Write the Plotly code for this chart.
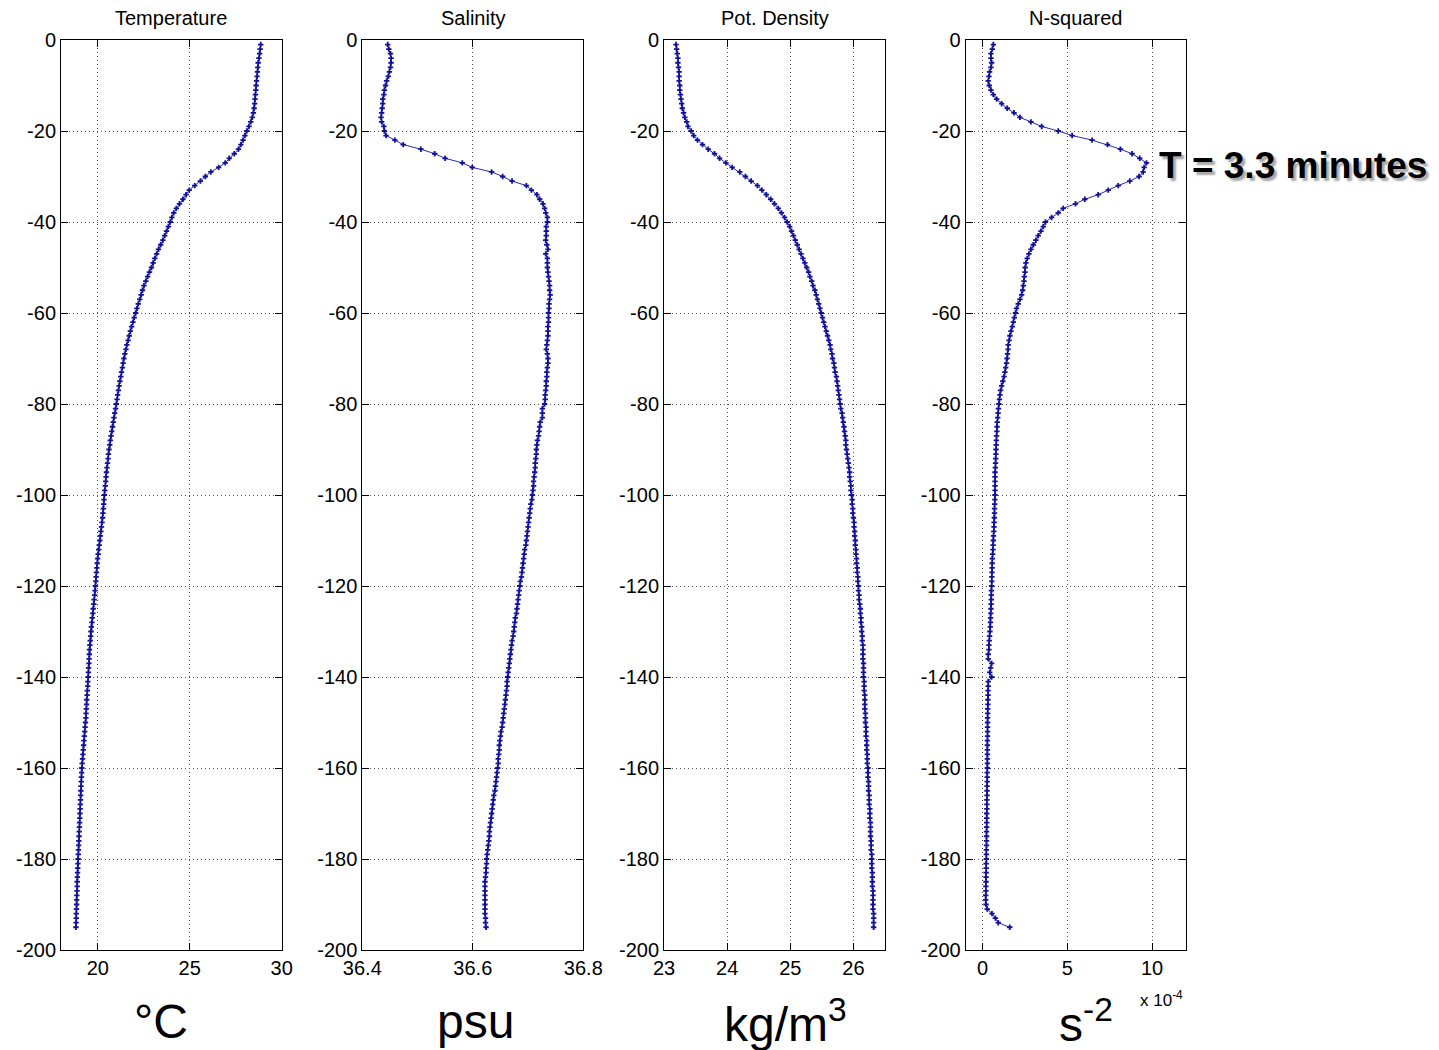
import plotly.graph_objects as go

# ---------------- data ----------------
depth = list(range(-1, -196, -1))  # 1 m bins, 1..195 m

temperature = [
    28.86, 28.83, 28.80, 28.76, 28.72, 28.70, 28.68, 28.66, 28.63, 28.61,
    28.59, 28.57, 28.55, 28.53, 28.50, 28.46, 28.40, 28.32, 28.22, 28.10,
    28.00, 27.90, 27.78, 27.65, 27.42, 27.15, 26.93, 26.57, 26.15, 25.85,
    25.58, 25.27, 24.97, 24.80, 24.63, 24.44, 24.27, 24.13, 24.03, 23.94,
    23.84, 23.74, 23.64, 23.54, 23.42, 23.30, 23.20, 23.10, 23.01, 22.92,
    22.81, 22.71, 22.61, 22.51, 22.43, 22.36, 22.28, 22.20, 22.13, 22.06,
    21.98, 21.91, 21.84, 21.77, 21.71, 21.65, 21.58, 21.53, 21.47, 21.42,
    21.38, 21.34, 21.29, 21.25, 21.20, 21.16, 21.12, 21.08, 21.05, 21.01,
    20.97, 20.92, 20.88, 20.84, 20.80, 20.76, 20.72, 20.68, 20.65, 20.61,
    20.58, 20.56, 20.53, 20.50, 20.47, 20.45, 20.43, 20.41, 20.38, 20.36,
    20.34, 20.32, 20.30, 20.28, 20.26, 20.23, 20.20, 20.17, 20.14, 20.11,
    20.08, 20.05, 20.02, 19.99, 19.97, 19.95, 19.93, 19.91, 19.89, 19.87,
    19.85, 19.83, 19.80, 19.78, 19.75, 19.73, 19.70, 19.68, 19.65, 19.63,
    19.61, 19.59, 19.57, 19.55, 19.54, 19.53, 19.52, 19.50, 19.49, 19.48,
    19.46, 19.45, 19.43, 19.42, 19.40, 19.39, 19.38, 19.36, 19.35, 19.33,
    19.31, 19.29, 19.27, 19.25, 19.23, 19.21, 19.19, 19.17, 19.15, 19.13,
    19.12, 19.11, 19.10, 19.09, 19.08, 19.07, 19.06, 19.05, 19.04, 19.03,
    19.02, 19.01, 19.00, 18.99, 18.98, 18.97, 18.96, 18.95, 18.94, 18.93,
    18.92, 18.91, 18.90, 18.89, 18.88, 18.88, 18.87, 18.86, 18.85, 18.85,
    18.84, 18.83, 18.83, 18.82, 18.81,
]

salinity = [
    36.446, 36.448, 36.451, 36.452, 36.452, 36.451, 36.449, 36.447, 36.444, 36.442,
    36.440, 36.439, 36.437, 36.437, 36.436, 36.435, 36.434, 36.435, 36.439, 36.440,
    36.443, 36.459, 36.474, 36.506, 36.531, 36.550, 36.581, 36.599, 36.634, 36.654,
    36.671, 36.697, 36.706, 36.716, 36.721, 36.727, 36.730, 36.732, 36.735, 36.735,
    36.733, 36.733, 36.733, 36.732, 36.734, 36.736, 36.732, 36.735, 36.735, 36.735,
    36.736, 36.737, 36.738, 36.739, 36.739, 36.740, 36.739, 36.738, 36.738, 36.737,
    36.737, 36.737, 36.736, 36.736, 36.736, 36.735, 36.734, 36.733, 36.735, 36.736,
    36.736, 36.735, 36.734, 36.734, 36.733, 36.733, 36.732, 36.731, 36.731, 36.730,
    36.726, 36.726, 36.726, 36.722, 36.721, 36.720, 36.719, 36.717, 36.716, 36.715,
    36.715, 36.714, 36.713, 36.713, 36.712, 36.711, 36.710, 36.710, 36.709, 36.708,
    36.707, 36.705, 36.704, 36.703, 36.702, 36.701, 36.700, 36.699, 36.698, 36.697,
    36.696, 36.694, 36.693, 36.692, 36.691, 36.690, 36.689, 36.688, 36.686, 36.685,
    36.684, 36.683, 36.682, 36.681, 36.680, 36.679, 36.677, 36.676, 36.675, 36.674,
    36.673, 36.671, 36.670, 36.669, 36.668, 36.667, 36.666, 36.665, 36.664, 36.663,
    36.662, 36.662, 36.661, 36.660, 36.659, 36.658, 36.657, 36.656, 36.655, 36.654,
    36.653, 36.651, 36.650, 36.649, 36.648, 36.648, 36.647, 36.646, 36.646, 36.645,
    36.644, 36.643, 36.642, 36.641, 36.640, 36.638, 36.637, 36.636, 36.635, 36.634,
    36.633, 36.632, 36.631, 36.630, 36.630, 36.629, 36.628, 36.627, 36.626, 36.625,
    36.625, 36.624, 36.624, 36.623, 36.622, 36.622, 36.622, 36.622, 36.622, 36.622,
    36.622, 36.622, 36.623, 36.623, 36.624,
]

pot_density = [
    23.19, 23.20, 23.21, 23.22, 23.22, 23.23, 23.24, 23.24, 23.24, 23.25,
    23.25, 23.26, 23.27, 23.28, 23.29, 23.31, 23.33, 23.36, 23.38, 23.43,
    23.47, 23.53, 23.61, 23.70, 23.80, 23.88, 23.98, 24.08, 24.20, 24.29,
    24.38, 24.48, 24.55, 24.62, 24.69, 24.75, 24.81, 24.86, 24.91, 24.95,
    24.99, 25.02, 25.05, 25.08, 25.11, 25.14, 25.17, 25.20, 25.23, 25.26,
    25.29, 25.31, 25.34, 25.36, 25.39, 25.41, 25.43, 25.45, 25.47, 25.49,
    25.51, 25.53, 25.55, 25.57, 25.59, 25.61, 25.63, 25.64, 25.66, 25.67,
    25.69, 25.70, 25.71, 25.73, 25.74, 25.75, 25.76, 25.77, 25.78, 25.79,
    25.80, 25.82, 25.83, 25.84, 25.85, 25.86, 25.87, 25.88, 25.88, 25.89,
    25.90, 25.91, 25.92, 25.93, 25.94, 25.94, 25.95, 25.96, 25.96, 25.97,
    25.98, 25.98, 25.99, 25.99, 26.00, 26.01, 26.01, 26.02, 26.02, 26.03,
    26.03, 26.04, 26.04, 26.05, 26.05, 26.06, 26.06, 26.07, 26.07, 26.08,
    26.08, 26.09, 26.09, 26.10, 26.11, 26.11, 26.12, 26.12, 26.13, 26.13,
    26.14, 26.14, 26.15, 26.15, 26.15, 26.15, 26.16, 26.16, 26.16, 26.16,
    26.17, 26.17, 26.17, 26.18, 26.18, 26.18, 26.18, 26.19, 26.19, 26.19,
    26.20, 26.20, 26.20, 26.21, 26.21, 26.21, 26.22, 26.22, 26.22, 26.23,
    26.23, 26.23, 26.24, 26.24, 26.24, 26.25, 26.25, 26.25, 26.26, 26.26,
    26.26, 26.27, 26.27, 26.27, 26.27, 26.28, 26.28, 26.28, 26.29, 26.29,
    26.29, 26.29, 26.30, 26.30, 26.30, 26.30, 26.31, 26.31, 26.31, 26.31,
    26.31, 26.32, 26.32, 26.32, 26.32,
]

n_squared_e4 = [  # units of 1e-4 s^-2
    0.63, 0.57, 0.49, 0.49, 0.53, 0.49, 0.41, 0.37, 0.33, 0.39,
    0.49, 0.63, 0.83, 1.12, 1.45, 1.85, 2.20, 2.85, 3.48, 4.46,
    5.28, 6.46, 7.37, 8.13, 8.82, 9.27, 9.67, 9.53, 9.47, 9.23,
    8.68, 8.00, 7.41, 6.82, 6.03, 5.48, 4.75, 4.46, 4.07, 3.71,
    3.58, 3.44, 3.28, 3.14, 2.99, 2.85, 2.73, 2.63, 2.55, 2.51,
    2.50, 2.46, 2.44, 2.40, 2.36, 2.30, 2.20, 2.10, 2.00, 1.94,
    1.87, 1.81, 1.75, 1.67, 1.61, 1.56, 1.51, 1.50, 1.47, 1.44,
    1.41, 1.36, 1.31, 1.26, 1.19, 1.12, 1.06, 1.02, 0.99, 0.96,
    0.93, 0.91, 0.89, 0.86, 0.85, 0.84, 0.82, 0.81, 0.80, 0.79,
    0.78, 0.77, 0.76, 0.75, 0.73, 0.73, 0.73, 0.73, 0.73, 0.73,
    0.72, 0.71, 0.70, 0.70, 0.69, 0.68, 0.67, 0.66, 0.64, 0.63,
    0.62, 0.61, 0.59, 0.57, 0.56, 0.56, 0.55, 0.54, 0.54, 0.53,
    0.52, 0.51, 0.51, 0.50, 0.49, 0.48, 0.47, 0.46, 0.45, 0.43,
    0.41, 0.39, 0.37, 0.37, 0.33, 0.33, 0.53, 0.47, 0.42, 0.53,
    0.33, 0.33, 0.32, 0.32, 0.31, 0.31, 0.30, 0.30, 0.29, 0.29,
    0.29, 0.29, 0.29, 0.28, 0.28, 0.28, 0.28, 0.28, 0.28, 0.28,
    0.27, 0.27, 0.27, 0.26, 0.26, 0.26, 0.25, 0.25, 0.25, 0.24,
    0.24, 0.24, 0.24, 0.23, 0.23, 0.23, 0.23, 0.22, 0.22, 0.22,
    0.21, 0.21, 0.21, 0.20, 0.20, 0.19, 0.19, 0.18, 0.18, 0.20,
    0.27, 0.55, 0.75, 0.92, 1.60,
]

panel_titles = ["Temperature", "Salinity", "Pot. Density", "N-squared"]
x_ranges = [[18, 30], [36.4, 36.8], [23, 26.5], [-1, 12]]
x_ticks = [[20, 25, 30], [36.4, 36.6, 36.8], [23, 24, 25, 26], [0, 5, 10]]
x_ticklabels = [["20", "25", "30"], ["36.4", "36.6", "36.8"],
                ["23", "24", "25", "26"], ["0", "5", "10"]]
y_ticks = [0, -20, -40, -60, -80, -100, -120, -140, -160, -180, -200]
y_ticklabels = ["0", "-20", "-40", "-60", "-80", "-100", "-120", "-140",
                "-160", "-180", "-200"]
unit_labels = ["°C", "psu", "kg/m<sup>3</sup>", "s<sup>-2</sup>"]
series = [temperature, salinity, pot_density, n_squared_e4]

# ---------------- layout geometry (screen pixels) ----------------
W, H = 1439, 1050
panel_px = [(61, 281.7), (362.3, 583.3), (664, 885), (965.7, 1186)]
top_px, bot_px = 40, 950
unit_x_px = [161, 475, 786, 1086]


def fx(sx):
    return sx / W


def fy(sy):
    return 1 - sy / H


FONT = "Liberation Sans, Arial, Helvetica, sans-serif"
LINE_COLOR = "#2a2aa8"
MARK_COLOR = "#10109a"

fig = go.Figure()
layout = dict(
    width=W, height=H, autosize=False,
    margin=dict(l=0, r=0, t=0, b=0, pad=0),
    paper_bgcolor="white", plot_bgcolor="white",
    showlegend=False,
    font=dict(family=FONT, size=20, color="black"),
)

annotations = []
for i in range(4):
    n = "" if i == 0 else str(i + 1)
    fig.add_trace(go.Scatter(
        x=series[i], y=depth, xaxis="x" + n, yaxis="y" + n,
        mode="lines+markers",
        line=dict(color=LINE_COLOR, width=1),
        marker=dict(symbol="cross", size=4.5, color=MARK_COLOR,
                    line=dict(width=0)),
    ))
    x0, x1 = panel_px[i]
    axis_common = dict(
        showline=True, linecolor="black", linewidth=1, mirror="ticks",
        ticks="inside", ticklen=7, tickcolor="black", tickwidth=1,
        showgrid=True, gridcolor="#505050", gridwidth=1, griddash="1px,3px",
        zeroline=False, automargin=False,
        tickfont=dict(family=FONT, size=20, color="black"),
    )
    layout["xaxis" + n] = dict(
        axis_common, domain=[fx(x0), fx(x1)], anchor="y" + n,
        range=x_ranges[i], tickvals=x_ticks[i], ticktext=x_ticklabels[i],
    )
    layout["yaxis" + n] = dict(
        axis_common, domain=[fy(bot_px), fy(top_px)], anchor="x" + n,
        range=[-200, 0], tickvals=y_ticks, ticktext=y_ticklabels,
    )
    annotations.append(dict(
        text=panel_titles[i], x=fx((x0 + x1) / 2), y=fy(18),
        xref="paper", yref="paper", showarrow=False,
        font=dict(family=FONT, size=20, color="black"),
        xanchor="center", yanchor="middle",
    ))
    annotations.append(dict(
        text=unit_labels[i], x=fx(unit_x_px[i]), y=fy(1021),
        xref="paper", yref="paper", showarrow=False,
        font=dict(family=FONT, size=48, color="black"),
        xanchor="center", yanchor="middle",
    ))

annotations.append(dict(
    text="x 10<sup>-4</sup>", x=fx(1161), y=fy(999),
    xref="paper", yref="paper", showarrow=False,
    font=dict(family=FONT, size=17, color="black"),
    xanchor="center", yanchor="middle",
))
# period annotation with a soft drop shadow
annotations.append(dict(
    text="<b>T = 3.3 minutes</b>", x=fx(1157), y=fy(166),
    xref="paper", yref="paper", showarrow=False,
    font=dict(family=FONT, size=37, color="black",
              shadow="3px 3px 2px #a8a8a8"),
    xanchor="left", yanchor="middle",
))
layout["annotations"] = annotations
fig.update_layout(**layout)

fig.write_html(
    "out.html",
    config={"displayModeBar": False, "staticPlot": True},
    post_script="document.body.style.margin='0';"
                "document.body.style.overflow='hidden';",
)
